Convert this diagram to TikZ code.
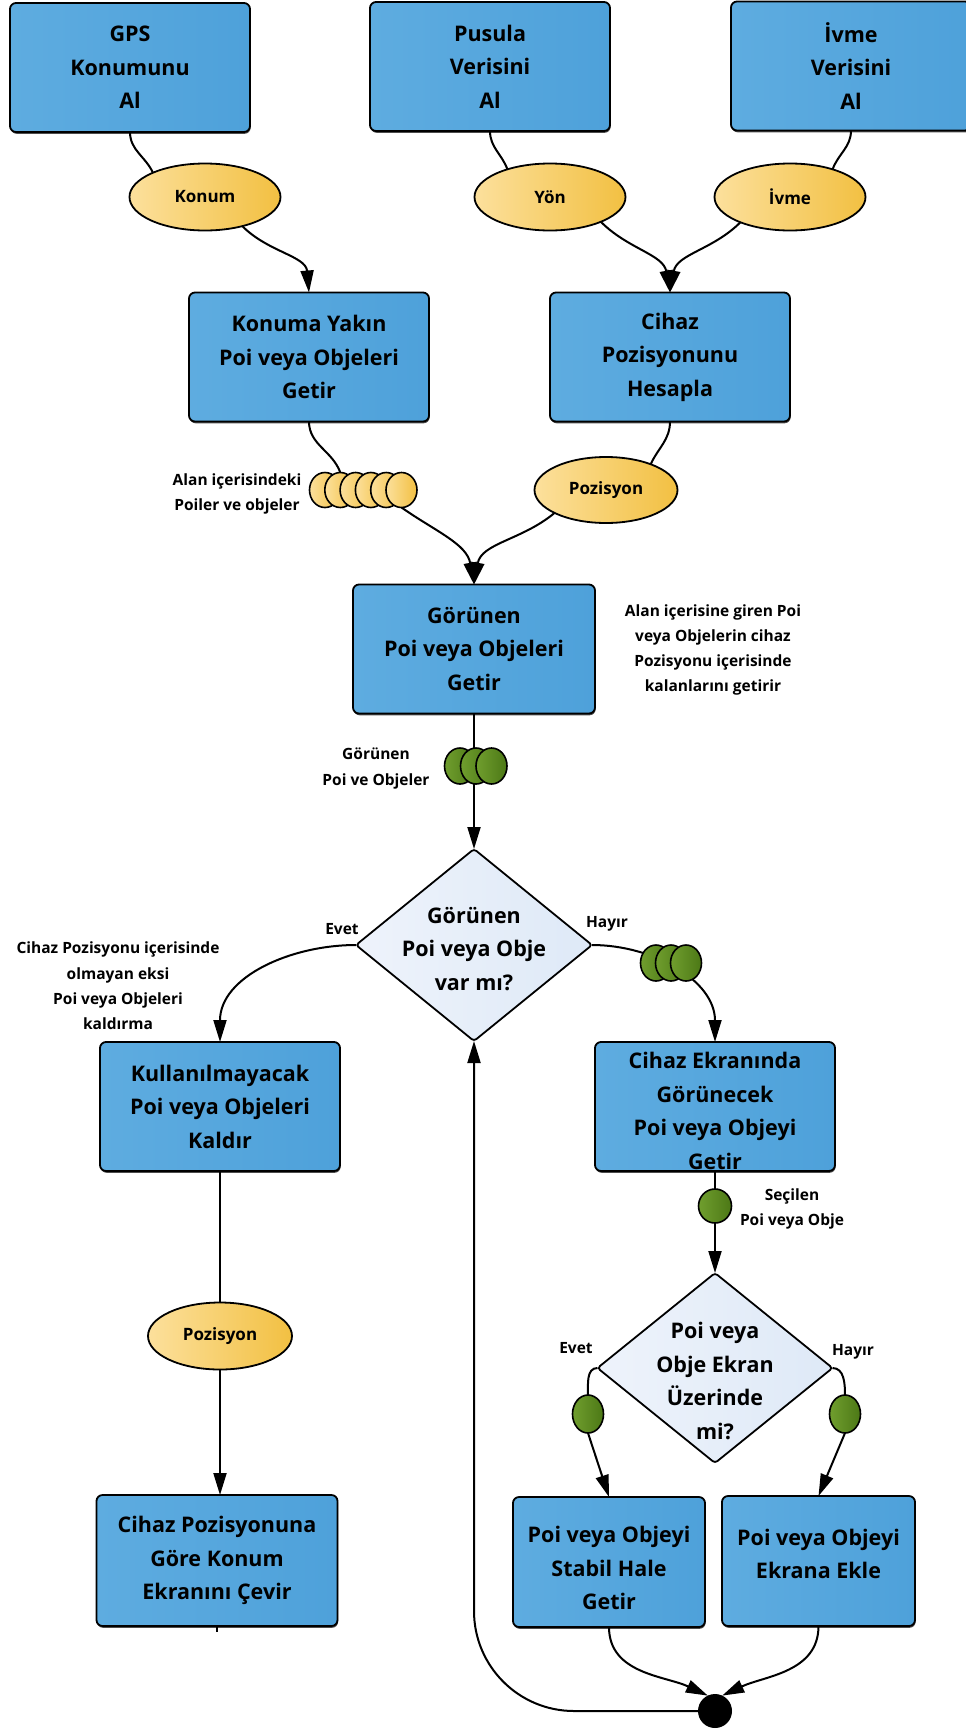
\documentclass[tikz,border=0pt]{standalone}
\usepackage{fontspec}
\setmainfont{Open Sans}
\usetikzlibrary{arrows.meta,shapes.geometric,shadows,backgrounds}

\definecolor{boxL}{RGB}{94,172,224}
\definecolor{boxR}{RGB}{78,161,218}
\definecolor{ylwL}{RGB}{252,224,156}
\definecolor{ylwR}{RGB}{242,192,66}
\definecolor{grnL}{RGB}{112,158,46}
\definecolor{grnR}{RGB}{76,120,22}
\definecolor{diaL}{RGB}{238,243,251}
\definecolor{diaR}{RGB}{222,233,247}

\tikzset{
  every node/.style={inner sep=0pt, outer sep=0pt},
  boxtext/.style={align=center, font=\fontsize{21.5}{33.5}\selectfont\bfseries},
  stepbox/.style={boxtext, draw=black, line width=1.8pt, rounded corners=6pt,
    left color=boxL, right color=boxR,
    drop shadow={shadow xshift=0.6pt, shadow yshift=-1.8pt, opacity=0.7, fill=black},
    minimum width=240pt, minimum height=129pt},
  data/.style={ellipse, draw=black, line width=1.8pt, left color=ylwL, right color=ylwR,
    font=\fontsize{17}{22}\selectfont\bfseries, minimum width=151pt, minimum height=67pt},
  yset/.style={ellipse, draw=black, line width=1.6pt, left color=ylwL, right color=ylwR,
    minimum width=31pt, minimum height=35pt},
  gset/.style={ellipse, draw=black, line width=1.6pt, left color=grnL, right color=grnR,
    minimum width=31pt, minimum height=36pt},
  decision/.style={diamond, draw=black, line width=1.8pt, rounded corners=3pt,
    left color=diaL, right color=diaR},
  lbl/.style={align=center, font=\fontsize{15.5}{25.3}\selectfont\bfseries},
  conn/.style={draw=black, line width=2pt},
  arr/.style={conn, -{Triangle[length=22pt,width=13pt]}},
}

\begin{document}
\begin{tikzpicture}[x=1pt, y=1pt]
\useasboundingbox (0,0) rectangle (966,-1729);

% --- input steps
\node[stepbox] (gps)    at (130,-67.5) {GPS\\Konumunu\\Al};
\node[stepbox] (pusula) at (490,-66.5) {Pusula\\Verisini\\Al};
\node[stepbox] (ivme)   at (851,-66)   {İvme\\Verisini\\Al};

\node[data] (konum) at (205,-197) {Konum};
\node[data] (yon)   at (550,-197) {Yön};
\node[data] (ivmeE) at (790,-197) {İvme};

% --- second row
\node[stepbox] (konuma) at (309,-357) {Konuma Yakın\\Poi veya Objeleri\\Getir};
\node[stepbox] (cihaz)  at (670,-357) {Cihaz\\Pozisyonunu\\Hesapla};

\foreach \i/\x in {1/325,2/340.3,3/355.6,4/370.9,5/386.2,6/401.5}
  \node[yset] (ya\i) at (\x,-490) {};
\node[lbl] (lblAlan) at (237,-494) {Alan içerisindeki\\Poiler ve objeler};
\node[data, minimum width=143pt, minimum height=66pt] (pos1) at (606,-490) {Pozisyon};

% --- visible objects
\node[stepbox, minimum width=242pt] (gorunen) at (474,-649) {Görünen\\Poi veya Objeleri\\Getir};
\node[lbl] (lblNote) at (713,-650) {Alan içerisine giren Poi\\veya Objelerin cihaz\\Pozisyonu içerisinde\\kalanlarını getirir};

\foreach \i/\x in {1/460,2/476,3/491.5}
  \node[gset] (ga\i) at (\x,-766) {};
\node[lbl] (lblGor) at (376,-768.5) {Görünen\\Poi ve Objeler};

% --- first decision
\node[decision, minimum width=236pt, minimum height=192pt] (d1) at (474,-945) {};
\node[boxtext] (d1t) at (474,-948.7) {Görünen\\Poi veya Obje\\var mı?};
\node[lbl] (evet1)  at (342,-929) {Evet};
\node[lbl] (hayir1) at (607,-924) {Hayır};
\node[lbl] (lblKald) at (118,-986) {Cihaz Pozisyonu içerisinde\\olmayan eksi\\Poi veya Objeleri\\kaldırma};

\foreach \i/\x in {1/656,2/671,3/686}
  \node[gset] (gb\i) at (\x,-963) {};

\node[stepbox] (kullan) at (220,-1106.5) {Kullanılmayacak\\Poi veya Objeleri\\Kaldır};
\node[stepbox] (ekran)  at (715,-1106.5) {};
\node[boxtext] (ekrant) at (715,-1111) {Cihaz Ekranında\\Görünecek\\Poi veya Objeyi\\Getir};

\node[data, minimum width=144pt] (pos2) at (220,-1336) {Pozisyon};

\node[gset, minimum width=33pt, minimum height=34pt] (gs) at (715,-1206) {};
\node[lbl] (lblSec) at (792,-1209) {Seçilen\\Poi veya Obje};

% --- second decision
\node[decision, minimum width=235pt, minimum height=190pt] (d2) at (715,-1368) {};
\node[boxtext] (d2t) at (715,-1381) {Poi veya\\Obje Ekran\\Üzerinde\\mi?};
\node[lbl] (evet2)  at (576,-1348) {Evet};
\node[lbl] (hayir2) at (853,-1352) {Hayır};
\node[gset, minimum height=38pt] (gl) at (588,-1414) {};
\node[gset, minimum height=38pt] (gr) at (845,-1414) {};

% --- final steps
\node[stepbox, minimum width=241pt, minimum height=131pt] (cevir) at (217,-1560.5) {Cihaz Pozisyonuna\\Göre Konum\\Ekranını Çevir};
\node[stepbox, minimum width=192pt, minimum height=130pt] (stabil) at (609,-1562) {};
\node[boxtext] (stabilt) at (609,-1568) {Poi veya Objeyi\\Stabil Hale\\Getir};
\node[stepbox, minimum width=193pt, minimum height=130pt] (ekle) at (818.5,-1561) {};
\node[boxtext] (eklet) at (818.5,-1554) {Poi veya Objeyi\\Ekrana Ekle};

\node[circle, fill=black, minimum size=34pt] (dot) at (715,-1711) {};

% --- connectors
\begin{scope}[on background layer]
  \draw[conn] (gps.south) to[out=-90,in=115] (konum.155);
  \draw[arr]  (konum.-38) to[out=-45,in=95] (konuma.north);
  \draw[conn] (pusula.south) to[out=-90,in=110] (yon.147);
  \draw[conn] (ivme.south) to[out=-90,in=70] (ivmeE.33);
  \draw[arr]  (yon.-26) to[out=-45,in=100] (cihaz.north);
  \draw[arr]  (ivmeE.207) to[out=-135,in=80] (cihaz.north);

  \draw[conn] (konuma.south) to[out=-90,in=110] (ya2.north);
  \draw[arr]  (ya6.south) to[out=-35,in=100] (gorunen.north);
  \draw[conn] (cihaz.south) to[out=-90,in=65] (pos1.30);
  \draw[arr]  (pos1.204) to[out=-140,in=80] (gorunen.north);

  \draw[arr]  (gorunen.south) -- (d1.north);
  \draw[arr]  (d1.west) to[out=180,in=90] (kullan.north);
  \draw[arr]  (d1.east) to[out=0,in=90] (ekran.north);

  \draw[conn] (kullan.south) -- (pos2.north);
  \draw[arr]  (pos2.south) -- (cevir.north -| pos2.south);
  \coordinate (stub) at ([yshift=-6pt]cevir.south);
  \draw[conn] (cevir.south) -- (stub);

  \draw[arr]  (ekran.south) -- (d2.north);
  \draw[conn] (d2.west) to[out=180,in=90] (gl.north);
  \draw[arr]  (gl.south) -- (stabil.north);
  \draw[conn] (d2.east) to[out=0,in=90] (gr.north);
  \draw[arr]  (gr.south) -- (ekle.north);

  \draw[arr]  (stabil.south) to[out=-90,in=155] (dot.115);
  \draw[arr]  (ekle.south) to[out=-90,in=25] (dot.65);
  \draw[arr, rounded corners=100pt] (dot.west) -| (d1.south);
\end{scope}
\end{tikzpicture}
\end{document}
